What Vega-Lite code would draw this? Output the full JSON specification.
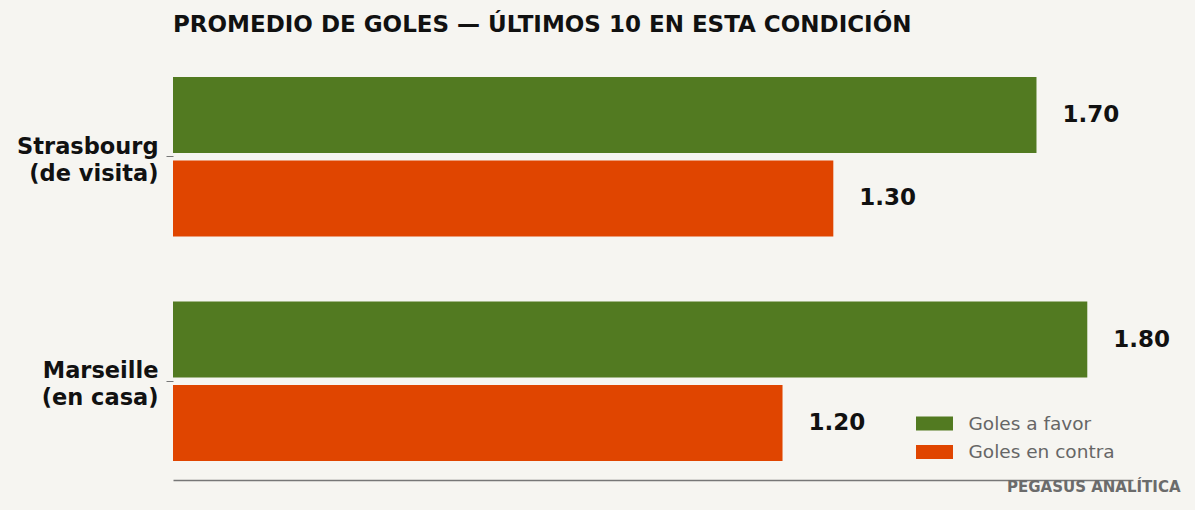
{
  "$schema": "https://vega.github.io/schema/vega-lite/v6.json",
  "autosize": "none",
  "padding": {"left": 173, "top": 58, "right": 62, "bottom": 30},
  "width": 960,
  "height": 422,
  "background": "#f6f5f1",
  "config": {
    "font": "DejaVu Sans",
    "view": {"stroke": null}
  },
  "title": {
    "text": "PROMEDIO DE GOLES — ÚLTIMOS 10 EN ESTA CONDICIÓN",
    "anchor": "start",
    "frame": "group",
    "fontSize": 23,
    "fontWeight": "bold",
    "color": "#111111",
    "offset": 21
  },
  "data": {
    "values": [
      {"equipo": "Strasbourg\n(de visita)", "tipo": "Goles a favor", "valor": 1.7},
      {"equipo": "Strasbourg\n(de visita)", "tipo": "Goles en contra", "valor": 1.3},
      {"equipo": "Marseille\n(en casa)", "tipo": "Goles a favor", "valor": 1.8},
      {"equipo": "Marseille\n(en casa)", "tipo": "Goles en contra", "valor": 1.2}
    ]
  },
  "encoding": {
    "y": {
      "field": "equipo",
      "type": "nominal",
      "sort": null,
      "title": null,
      "scale": {"paddingInner": 0.29, "paddingOuter": 0.085},
      "axis": {
        "domain": false,
        "tickColor": "#777777",
        "tickSize": 7,
        "labelExpr": "split(datum.label, '\\n')",
        "labelFontSize": 22.5,
        "labelFontWeight": "bold",
        "labelColor": "#111111",
        "labelLineHeight": 27,
        "labelPadding": 8,
        "labelBaseline": "middle",
        "labelOffset": -10
      }
    },
    "yOffset": {
      "field": "tipo",
      "type": "nominal",
      "sort": ["Goles a favor", "Goles en contra"],
      "scale": {"paddingInner": 0.09}
    },
    "x": {
      "field": "valor",
      "type": "quantitative",
      "scale": {"domain": [0, 1.89], "nice": false},
      "title": "PEGASUS ANALÍTICA",
      "axis": {
        "domainColor": "#777777",
        "domainWidth": 1.5,
        "ticks": false,
        "labels": false,
        "grid": false,
        "titleX": 1007,
        "titleY": 11,
        "titleAlign": "right",
        "titleBaseline": "alphabetic",
        "titleFontSize": 15,
        "titleFontWeight": "bold",
        "titleColor": "#6b6b6b"
      }
    }
  },
  "layer": [
    {
      "mark": {"type": "bar"},
      "encoding": {
        "color": {
          "field": "tipo",
          "type": "nominal",
          "scale": {
            "domain": ["Goles a favor", "Goles en contra"],
            "range": ["#527a21", "#e04500"]
          },
          "legend": {
            "title": null,
            "orient": "none",
            "legendX": 752,
            "legendY": 356,
            "symbolType": "M-2,-0.76L2,-0.76L2,0.76L-2,0.76Z",
            "symbolSize": 342,
            "symbolStrokeWidth": 0,
            "labelFontSize": 18.5,
            "labelColor": "#666666",
            "labelOffset": 24.5,
            "rowPadding": 9.5
          }
        }
      }
    },
    {
      "mark": {
        "type": "text",
        "align": "left",
        "baseline": "middle",
        "dx": 26,
        "fontSize": 23,
        "fontWeight": "bold",
        "color": "#111111"
      },
      "encoding": {
        "text": {"field": "valor", "type": "quantitative", "format": ".2f"}
      }
    }
  ]
}
